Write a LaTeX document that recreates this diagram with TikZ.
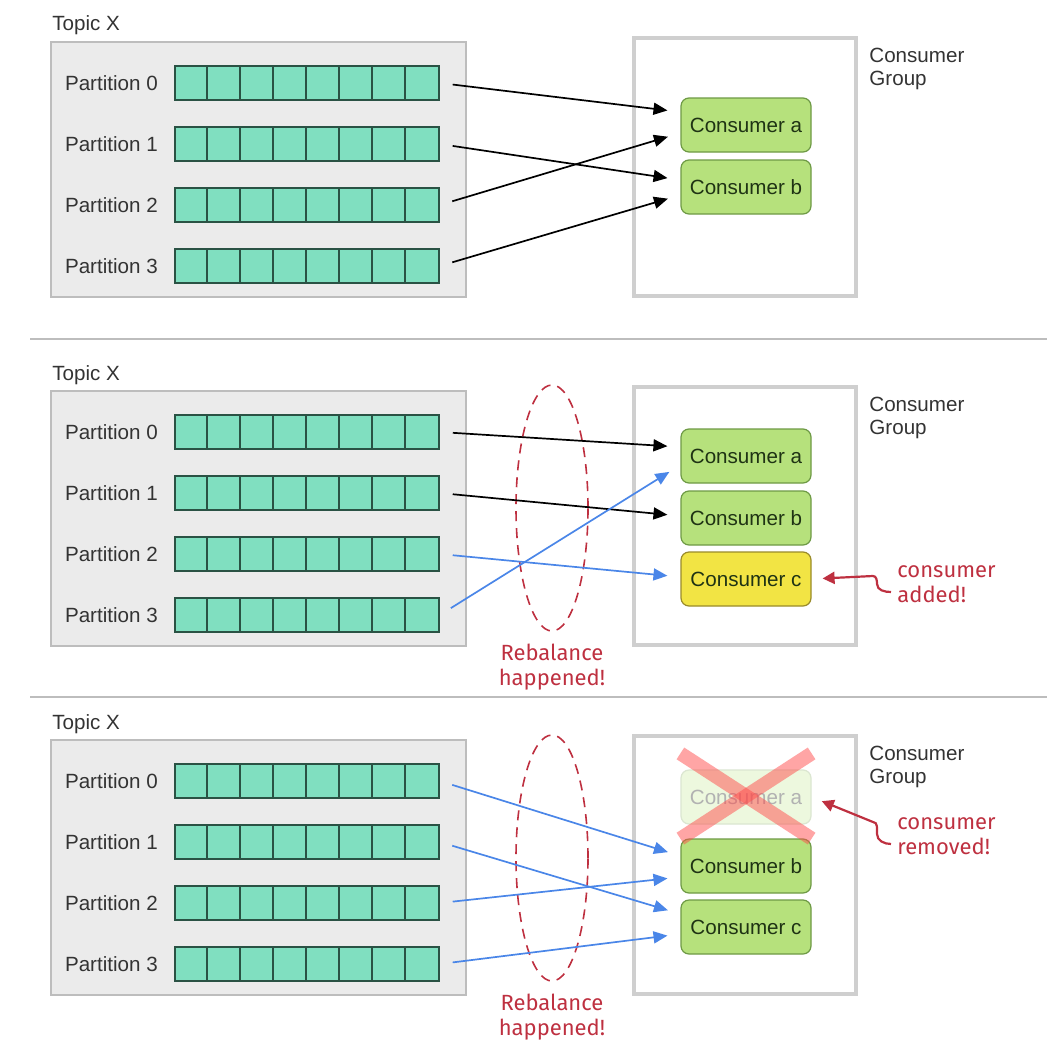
\documentclass[tikz,border=0pt]{standalone}
\usepackage{fontspec}
\setmainfont{Liberation Sans}
\newfontfamily\handfont{Fira Sans}
\usetikzlibrary{positioning,shapes.geometric,arrows.meta}
\usepackage{xcolor}
\definecolor{topicgray}{HTML}{EBEBEB}
\definecolor{topicline}{HTML}{BDBDBD}
\definecolor{cellteal}{HTML}{80DFC0}
\definecolor{cellline}{HTML}{2A5244}
\definecolor{groupline}{HTML}{CFCFCF}
\definecolor{consgreen}{HTML}{B6E17C}
\definecolor{consline}{HTML}{6E9A45}
\definecolor{constext}{HTML}{1F3314}
\definecolor{consyellow}{HTML}{F2E444}
\definecolor{yelline}{HTML}{9A8B2A}
\definecolor{flowblue}{HTML}{4A86E8}
\definecolor{notered}{HTML}{BE3040}
\definecolor{labelgray}{HTML}{333333}

\begin{document}
\begin{tikzpicture}[x=0.5pt, y=-0.5pt, font=\fontsize{10.3}{12}\selectfont, text=labelgray,
    topicbox/.style={draw=topicline, fill=topicgray, line width=0.8pt},
    groupbox/.style={draw=groupline, fill=white, line width=1.7pt},
    partition/.style={draw=cellline, fill=cellteal, line width=0.8pt, minimum width=132pt, minimum height=17pt, inner sep=0pt},
    consumer/.style={draw=consline, fill=consgreen, line width=0.6pt, rounded corners=4pt, minimum width=65pt, minimum height=27pt, text=constext},
    newconsumer/.style={consumer, draw=yelline, fill=consyellow},
    oldconsumer/.style={consumer, draw=consline!25, fill=consgreen!25, text=black!30},
    flow/.style={-{Triangle[length=7pt,width=6pt]}, line width=0.85pt, shorten <=6.5pt, shorten >=6.5pt},
    newflow/.style={flow, draw=flowblue, -{Triangle[length=7pt,width=6pt,fill=flowblue]}},
    ring/.style={draw=notered, dashed, dash pattern=on 5pt off 3.5pt, line width=0.8pt, ellipse, minimum width=36pt, minimum height=123pt},
    note/.style={font=\handfont\fontsize{11}{12.5}\selectfont, text=notered, align=left, inner sep=0pt},
    notearrow/.style={draw=notered, line width=1.1pt, -{Triangle[length=6pt,width=6pt]}, shorten >=5.5pt},
    crossmark/.style={draw=red!70, opacity=0.5, line width=7pt}]

    \useasboundingbox (0,0) rectangle (1046,1060);

    % separators between the three states
    \draw[topicline, line width=1pt] (30,339) -- (1050,339);
    \draw[topicline, line width=1pt] (30,697) -- (1050,697);

    % topic, partitions and consumer group (same in every state)
    \foreach \k/\dy in {A/0,B/349,C/698} {
        \begin{scope}[shift={(0,\dy)}]
            \node[anchor=base west, inner sep=0pt] (\k-title) at (52,31) {Topic X};
            \draw[topicbox] (51,42) rectangle (466,297);
            \draw[groupbox] (634,38) rectangle (856,296);
            \node[anchor=north west, align=left, inner sep=0pt, font=\fontsize{10.3}{11.5}\selectfont] (\k-group) at (869,48) {Consumer\\Group};
            \foreach \i/\y in {0/83,1/144,2/205,3/266} {
                \node[partition] (\k-p\i) at (307,\y) {};
                \node[left=8pt of \k-p\i, inner sep=0pt] (\k-l\i) {Partition \i};
                \foreach \c in {1,...,7}
                    \draw[cellline, line width=0.8pt] ([xshift=\c*16.5pt]\k-p\i.north west) -- ([xshift=\c*16.5pt]\k-p\i.south west);
            }
        \end{scope}
    }

    % state 1
    \node[consumer] (A-a) at (746,125) {Consumer a};
    \node[consumer] (A-b) at (746,187) {Consumer b};
    \draw[flow] (A-p0.east) -- ([yshift=6.5pt]A-a.west);
    \draw[flow] (A-p1.east) -- ([yshift=3.5pt]A-b.west);
    \draw[flow] (A-p2.east) -- ([yshift=-4pt]A-a.west);
    \draw[flow] (A-p3.east) -- ([yshift=-4pt]A-b.west);

    % state 2: consumer added
    \node[consumer] (B-a) at (746,456) {Consumer a};
    \node[consumer] (B-b) at (746,518) {Consumer b};
    \node[newconsumer] (B-c) at (746,579) {Consumer c};
    \node[ring] (B-ring) at (552,508) {};
    \node[note, align=center, below=6pt of B-ring] (B-why) {Rebalance\\happened!};
    \draw[flow] (B-p0.east) -- ([yshift=4.5pt]B-a.west);
    \draw[flow] (B-p1.east) -- ([yshift=1pt]B-b.west);
    \draw[newflow] (B-p2.east) -- ([yshift=1pt]B-c.west);
    \draw[newflow] (B-p3.east) -- ([yshift=-4.5pt]B-a.west);
    \node[note, anchor=west] (B-note) at (897,584) {consumer\\added!};
    \draw[notearrow] ([shift={(-3pt,-4pt)}]B-note.west) to[out=180,in=-90] ++(-7pt,4pt) to[out=90,in=0] ++(-2pt,4pt) -- (B-c.east);

    % state 3: consumer removed
    \node[oldconsumer] (C-a) at (746,797) {Consumer a};
    \node[consumer] (C-b) at (746,866) {Consumer b};
    \node[consumer] (C-c) at (746,927) {Consumer c};
    \draw[crossmark] ([yshift=8pt]C-a.north west) -- ([yshift=-7pt]C-a.south east);
    \draw[crossmark] ([yshift=8pt]C-a.north east) -- ([yshift=-7pt]C-a.south west);
    \node[ring] (C-ring) at (552,858) {};
    \node[note, align=center, below=6pt of C-ring] (C-why) {Rebalance\\happened!};
    \draw[newflow] (C-p0.east) -- ([yshift=5pt]C-b.west);
    \draw[newflow] (C-p1.east) -- ([yshift=6.5pt]C-c.west);
    \draw[newflow] (C-p2.east) -- ([yshift=-5.5pt]C-b.west);
    \draw[newflow] (C-p3.east) -- ([yshift=-3.5pt]C-c.west);
    \node[note, anchor=west] (C-note) at (897,836) {consumer\\removed!};
    \draw[notearrow] ([shift={(-3pt,-4pt)}]C-note.west) to[out=180,in=-90] ++(-7pt,5pt) to[out=90,in=0] ++(-2pt,6pt) -- (C-a.east);
\end{tikzpicture}
\end{document}
